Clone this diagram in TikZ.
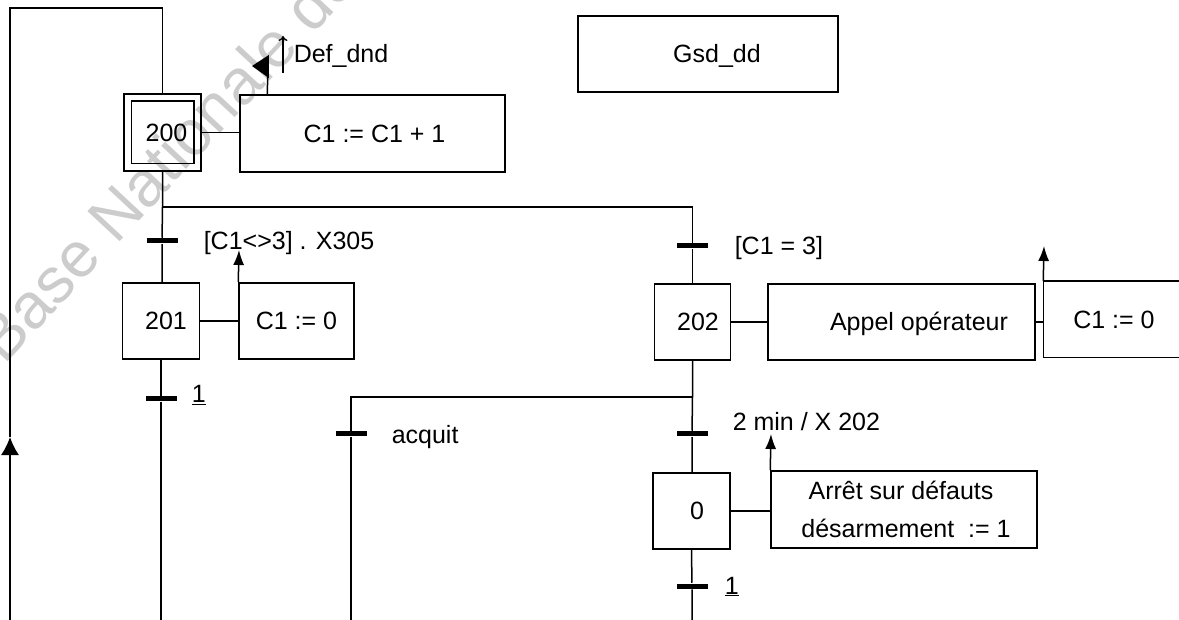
\documentclass[tikz,border=0pt]{standalone}
\usepackage{fontspec}
\setmainfont{Liberation Sans}
\usetikzlibrary{arrows.meta}
\begin{document}
\begin{tikzpicture}[x=1pt,y=-1pt,
  line width=1.5pt,
  every node/.style={font=\fontsize{25}{30}\selectfont},
  box/.style={draw, line width=1.5pt, inner sep=0pt, text height=17.5pt, text depth=0pt},
  trans/.style={fill=black, inner sep=0pt, minimum width=31pt, minimum height=5pt},
  lbl/.style={anchor=base west, inner sep=0pt},
  uptip/.style={-{Latex[length=15pt,width=11pt]}},
  wm/.style={text=black!20, font=\fontsize{64}{70}\selectfont, rotate=47, anchor=base west, inner sep=0pt}
]
\useasboundingbox (0,0) rectangle (1179,620);
\fill[white] (0,0) rectangle (1179,620);

% watermark
\node[wm] (wmark) at (4,366) {Base Nationale des};

% steps
\node[box, minimum width=77pt, minimum height=77pt] (s200) at (162.5,132.5) {\hspace*{8pt}200};
\draw ([shift={(8pt,8pt)}]s200.south west) rectangle ([shift={(-8pt,-8pt)}]s200.north east);
\node[box, minimum width=77pt, minimum height=76pt] (s201) at (161,321) {\hspace*{10pt}201};
\node[box, minimum width=76pt, minimum height=76pt] (s202) at (692.5,322) {\hspace*{11pt}202};
\node[box, minimum width=77pt, minimum height=76pt] (s0) at (691.5,511) {\hspace*{11pt}0};

% actions
\node[box, minimum width=265pt, minimum height=77pt] (a200) at (372.5,133.5) {\hspace*{4pt}C1 := C1 + 1};
\node[box, minimum width=115pt, minimum height=76pt] (a201) at (296.5,321) {C1 := 0};
\node[box, minimum width=267pt, minimum height=76pt] (a202) at (901.5,322) {\hspace*{35pt}Appel opérateur};
\node[inner sep=0pt, minimum width=140pt, minimum height=75pt, text height=17.5pt, text depth=0pt] (a202b) at (1114,319.5) {C1 := 0};
\draw (a202b.north east) -- (a202b.north west) -- (a202b.south west) -- (a202b.south east);
\node[box, minimum width=266pt, minimum height=77pt] (a0) at (904,509.5) {};
\node[anchor=base, inner sep=0pt] (a0l1) at (901,500) {Arrêt sur défauts};
\node[anchor=base, inner sep=0pt] (a0l2) at (906,537) {désarmement \ := 1};
\node[box, minimum width=260pt, minimum height=76pt] (gsd) at (708,54) {\hspace*{18pt}Gsd\_dd};

% step-action links
\draw (s200.east) -- (s200.east -| a200.west);
\draw (s201.east) -- (s201.east -| a201.west);
\draw (s202.east) -- (s202.east -| a202.west);
\draw (a202.east) -- (a202.east -| a202b.west);
\draw (s0.east) -- (s0.east -| a0.west);

% conditional action arrows
\coordinate (c201) at (239,250);
\draw[uptip] (a201.north west) -- (c201);
\coordinate (c202b) at (1044,246);
\draw[uptip] (a202b.north west) -- (c202b);
\coordinate (c0) at (771,434);
\draw[uptip] (a0.north west) -- (c0);

% Def_dnd
\coordinate (cdef) at (268,66);
\draw ([xshift=28pt]a200.north west) -- (cdef);
\fill (252,66) -- (268.8,55) -- (268.8,78) -- cycle;
\coordinate (edgeb) at (283,73);
\coordinate (edget) at (283,36);
\draw[line width=1.3pt, -{To[length=5pt,width=9pt]}] (edgeb) -- (edget);
\node[lbl] (ldef) at (293,63) {Def\_dnd};

% transitions
\node[trans] (t1) at (162,241) {};
\node[trans] (t2) at (692.5,246) {};
\node[trans] (t3) at (161,399) {};
\node[trans] (t4) at (351,434) {};
\node[trans] (t5) at (692,434) {};
\node[trans] (t6) at (692,586) {};

\node[lbl] (l1) at (203,250) {[C1<>3] . X305};
\node[lbl] (l2) at (734,255) {[C1 = 3]};
\node[lbl] (l3) at (191,403) {\underline{1}};
\node[lbl] (l4) at (391,443) {acquit};
\node[lbl] (l5) at (732,431) {2 min / X 202};
\node[lbl] (l6) at (724,594) {\underline{1}};

% loop from bottom back to step 200
\coordinate (loopbot) at (10,621);
\coordinate (looparr) at (10,437);
\coordinate (looptl) at (10,8);
\coordinate (looptr) at (162.5,8);
\draw[-{Latex[length=18pt,width=18pt]}] (loopbot) -- (looparr);
\draw (looparr) -- (looptl) -- (looptr) -- (s200.north);

% left column
\coordinate (div) at (162.5,207);
\coordinate (divr) at (692.5,207);
\draw (s200.south) -- (div) -- (t1) -- (s201.north -| t1);
\draw (div) -- (divr) -- (t2) -- (s202.north);
\coordinate (s201bot) at (161,621);
\draw (s201.south) -- (t3) -- (s201bot);

% right column
\coordinate (junc) at (692.5,397);
\coordinate (jl) at (351,397);
\coordinate (jlbot) at (351,621);
\draw (s202.south) -- (junc) -- (t5) -- (s0.north -| t5);
\draw (junc) -- (jl) -- (t4) -- (jlbot);
\coordinate (s0bot) at (692,621);
\draw (s0.south) -- (t6) -- (s0bot);
\end{tikzpicture}
\end{document}
